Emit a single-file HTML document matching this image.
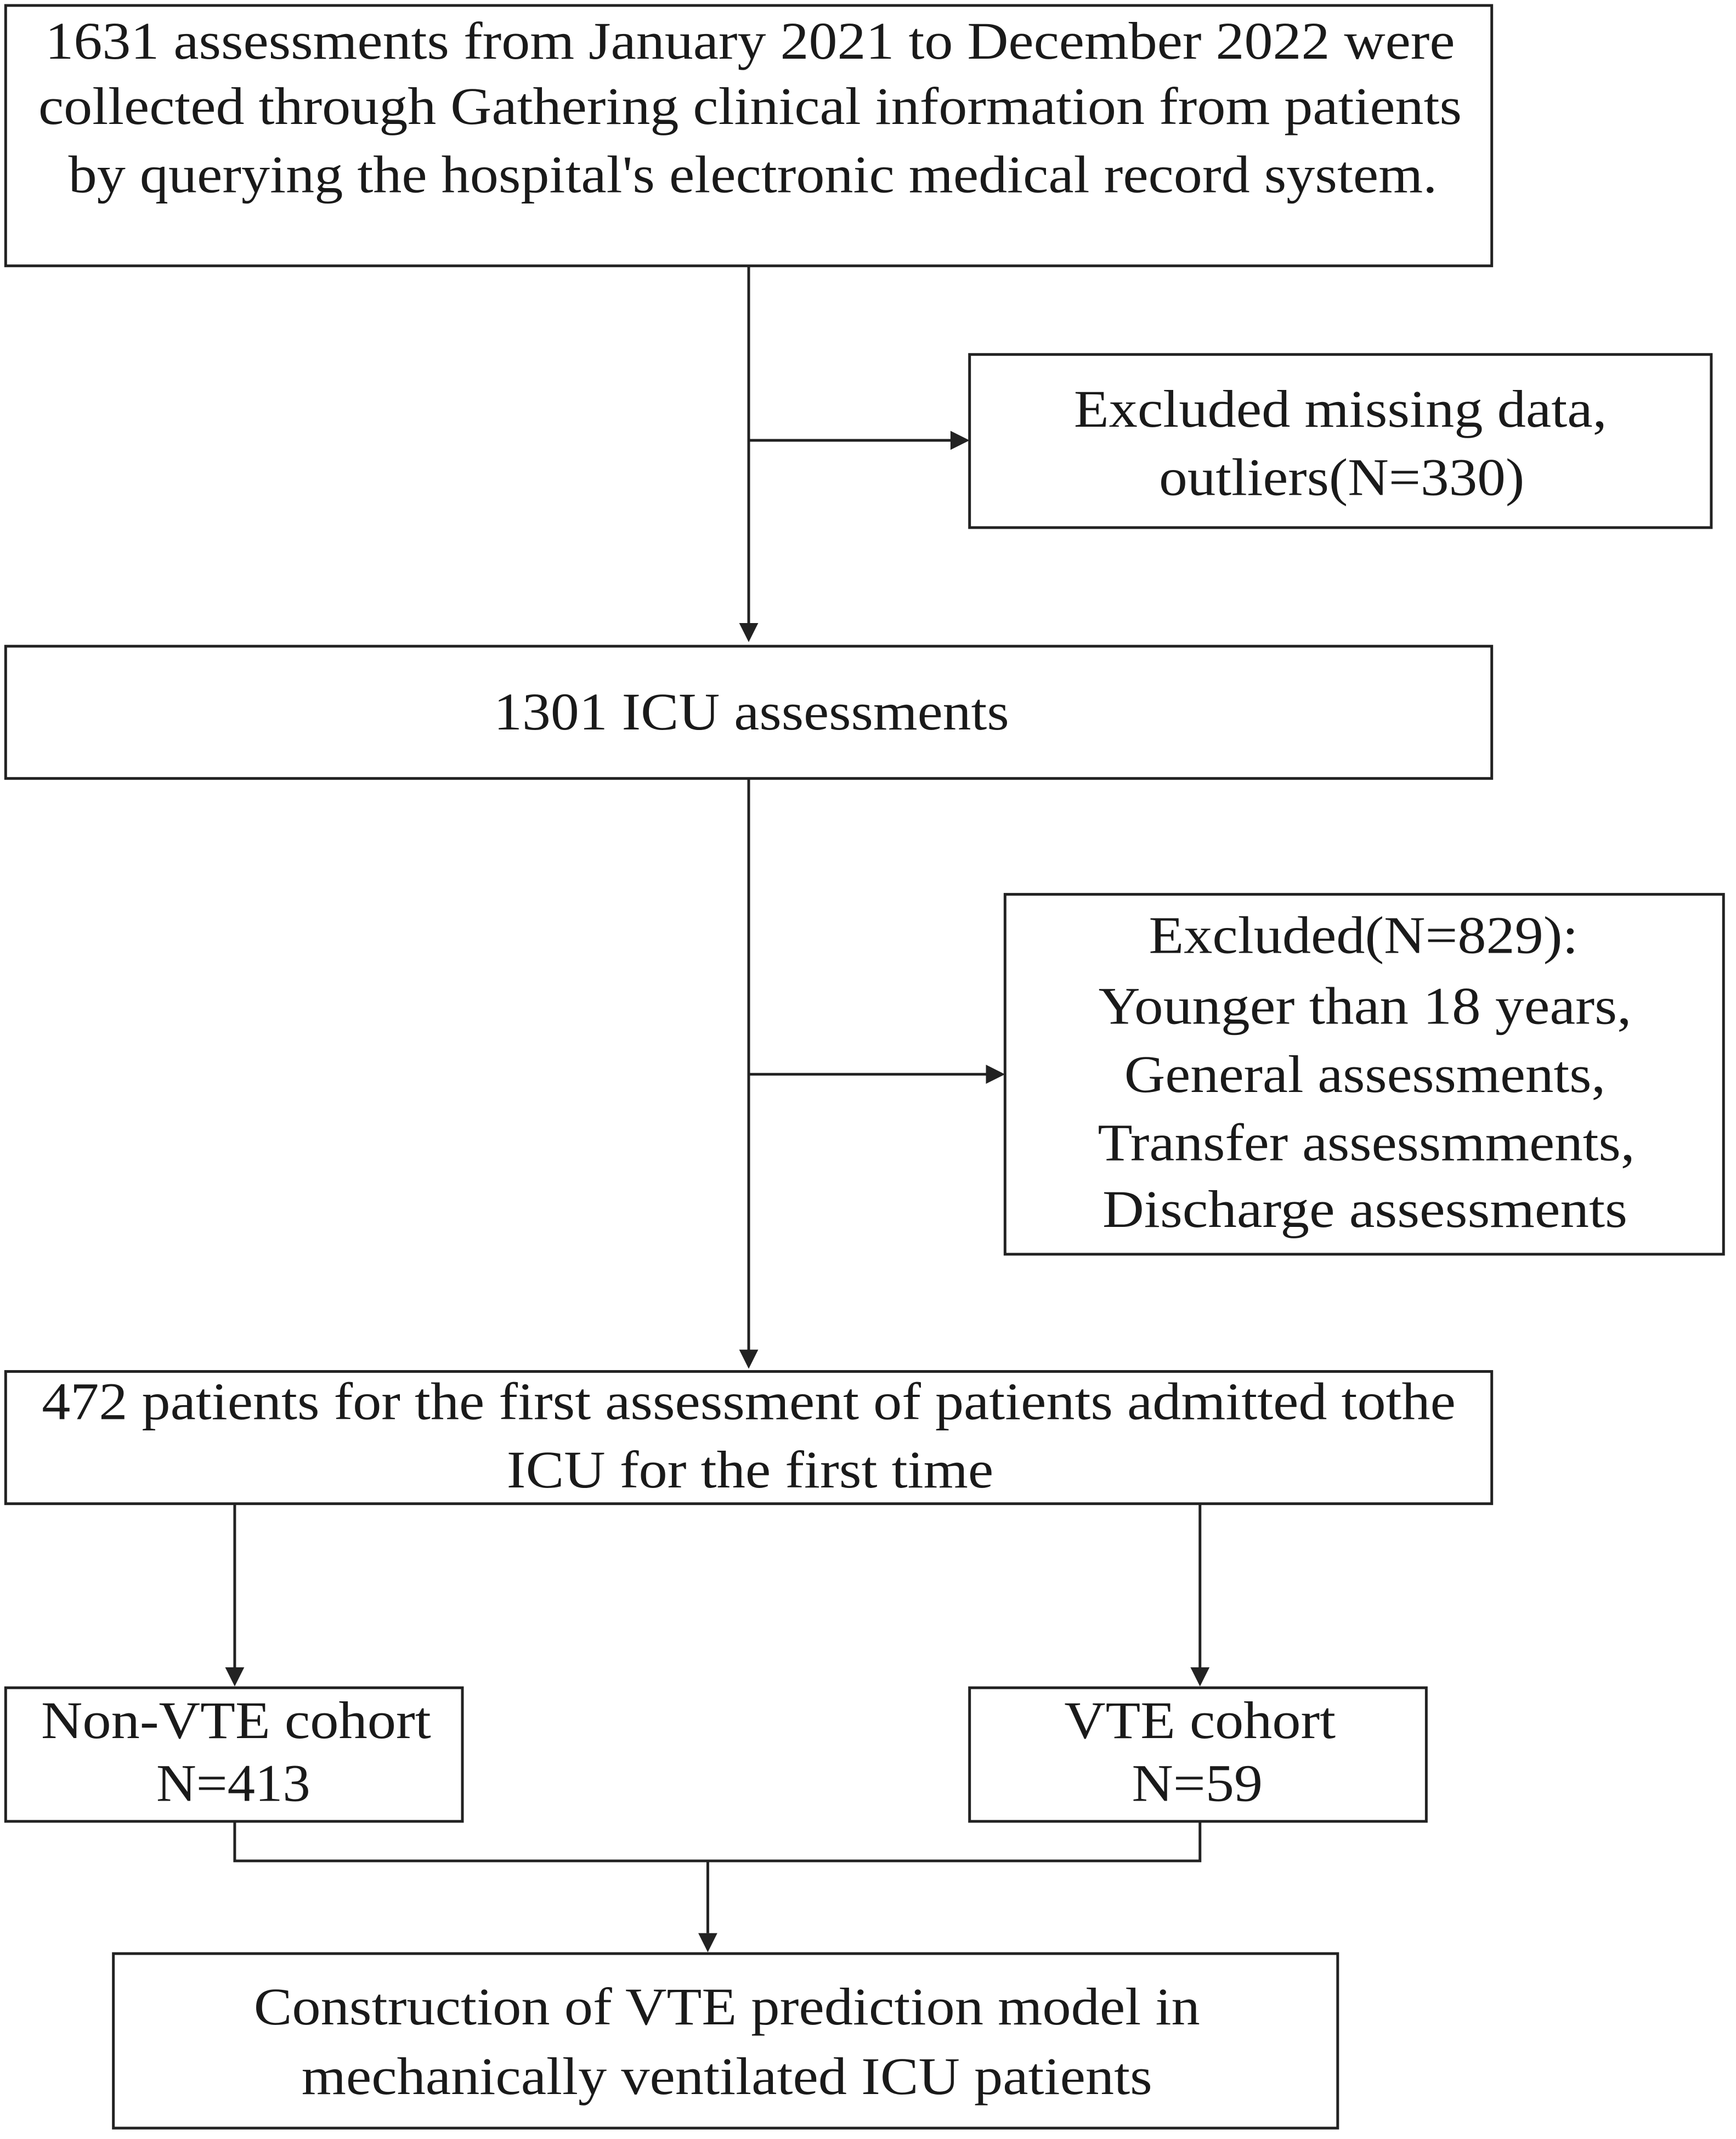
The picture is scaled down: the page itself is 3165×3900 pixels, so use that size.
<!DOCTYPE html>
<html><head><meta charset="utf-8"><style>
html,body{margin:0;padding:0;background:#fff}
svg{display:block}
text{font-family:"Liberation Serif",serif;font-size:39px;fill:#1a1a1a}
</style></head><body>
<svg width="3165" height="3900" viewBox="0 0 1273 1569" xmlns="http://www.w3.org/2000/svg">
<g fill="none" stroke="#222" stroke-width="2">
<rect x="4" y="4" width="1090" height="191"/>
<rect x="711" y="260" width="544" height="127"/>
<rect x="4" y="474" width="1090" height="97"/>
<rect x="737" y="656" width="527" height="264"/>
<rect x="4" y="1006" width="1090" height="97"/>
<rect x="4" y="1238" width="335" height="98"/>
<rect x="711" y="1238" width="335" height="98"/>
<rect x="83" y="1433" width="898" height="128"/>
<path d="M549 195V458M549 323H698M549 571V991M549 788H725M172 1103V1224M880 1103V1224M172 1336V1365H880V1336M519 1365V1418"/>
</g>
<g fill="#222">
<path d="M542 457L556 457L549 471Z"/>
<path d="M697 316L711 323L697 330Z"/>
<path d="M723 781L737 788L723 795Z"/>
<path d="M542 990L556 990L549 1004Z"/>
<path d="M165 1223L179 1223L172 1237Z"/>
<path d="M873 1223L887 1223L880 1237Z"/>
<path d="M512 1418L526 1418L519 1432Z"/>
</g>
<g text-anchor="middle" lengthAdjust="spacingAndGlyphs">
<text x="550" y="43" textLength="1034" lengthAdjust="spacingAndGlyphs">1631 assessments from January 2021 to December 2022 were</text>
<text x="550" y="91" textLength="1044" lengthAdjust="spacingAndGlyphs">collected through Gathering clinical information from patients</text>
<text x="552" y="141" textLength="1004" lengthAdjust="spacingAndGlyphs">by querying the hospital's electronic medical record system.</text>
<text x="983" y="313" textLength="391" lengthAdjust="spacingAndGlyphs">Excluded missing data,</text>
<text x="984" y="363" textLength="268" lengthAdjust="spacingAndGlyphs">outliers(N=330)</text>
<text x="551" y="535" textLength="378" lengthAdjust="spacingAndGlyphs">1301 ICU assessments</text>
<text x="1000" y="699" textLength="315" lengthAdjust="spacingAndGlyphs">Excluded(N=829):</text>
<text x="1001" y="751" textLength="391" lengthAdjust="spacingAndGlyphs">Younger than 18 years,</text>
<text x="1001" y="801" textLength="353" lengthAdjust="spacingAndGlyphs">General assessments,</text>
<text x="1002" y="851" textLength="394" lengthAdjust="spacingAndGlyphs">Transfer assessmments,</text>
<text x="1001" y="900" textLength="385" lengthAdjust="spacingAndGlyphs">Discharge assessments</text>
<text x="549" y="1041" textLength="1037" lengthAdjust="spacingAndGlyphs">472 patients for the first assessment of patients admitted tothe</text>
<text x="550" y="1091" textLength="357" lengthAdjust="spacingAndGlyphs">ICU for the first time</text>
<text x="173" y="1275" textLength="286" lengthAdjust="spacingAndGlyphs">Non-VTE cohort</text>
<text x="171" y="1321" textLength="113" lengthAdjust="spacingAndGlyphs">N=413</text>
<text x="880" y="1275" textLength="199" lengthAdjust="spacingAndGlyphs">VTE cohort</text>
<text x="878" y="1321" textLength="96" lengthAdjust="spacingAndGlyphs">N=59</text>
<text x="533" y="1485" textLength="694" lengthAdjust="spacingAndGlyphs">Construction of VTE prediction model in</text>
<text x="533" y="1536" textLength="624" lengthAdjust="spacingAndGlyphs">mechanically ventilated ICU patients</text>
</g>
</svg>
</body></html>
